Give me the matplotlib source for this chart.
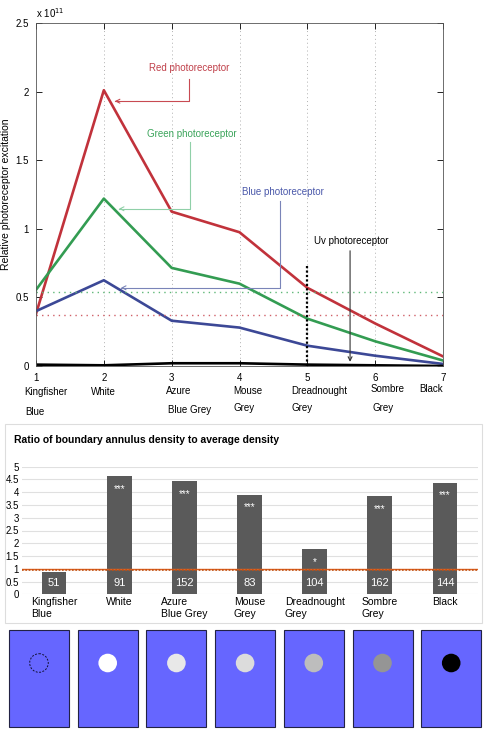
import numpy as np
import matplotlib
matplotlib.use("Agg")
import matplotlib.pyplot as plt
from matplotlib.patches import Rectangle, Circle

plt.rcParams['font.family'] = ['Liberation Sans', 'DejaVu Sans']
plt.rcParams['font.size'] = 7

# --- данные верхнего графика (в единицах 1e11)
stim_idx = [1, 2, 3, 4, 5, 6, 7]
names_line1 = ["Kingfisher", "White", "Azure", "Mouse", "Dreadnought", "Sombre", "Black"]
names_line2 = ["Blue", "", "Blue Grey", "Grey", "Grey", "Grey", ""]
red = [0.38, 2.01, 1.125, 0.975, 0.57, 0.31, 0.07]
green = [0.555, 1.22, 0.715, 0.60, 0.345, 0.18, 0.04]
blue = [0.40, 0.625, 0.33, 0.28, 0.148, 0.075, 0.015]
uv = [0.01, 0.005, 0.02, 0.02, 0.01, 0.005, 0.0]
green_ref = 0.54
red_ref = 0.372

# --- данные гистограммы
bar_names = ["Kingfisher\nBlue", "White", "Azure\nBlue Grey", "Mouse\nGrey",
             "Dreadnought\nGrey", "Sombre\nGrey", "Black"]
ratio = [0.88, 4.62, 4.43, 3.91, 1.78, 3.84, 4.38]
counts = [51, 91, 152, 83, 104, 162, 144]
stars = ["", "***", "***", "***", "*", "***", "***"]

# --- цвета кружков на стимулах
disc_colors = [None, "#ffffff", "#e8e8e8", "#dcdcdc", "#bdbdbd", "#959595", "#000000"]

fig = plt.figure(figsize=(4.84, 7.30), dpi=100)

# ================= верхний график
ax = fig.add_axes([36/484, 1-366/730, 407/484, 343/730])
c_red, c_green, c_blue = "#c1323b", "#339c52", "#3c4896"
ax.plot(stim_idx, red, color=c_red, lw=1.9)
ax.plot(stim_idx, green, color=c_green, lw=1.9)
ax.plot(stim_idx, blue, color=c_blue, lw=1.9)
ax.plot(stim_idx, uv, color="black", lw=1.9)
ax.axhline(green_ref, color="#60b878", ls=(0, (1, 3)), lw=1)
ax.axhline(red_ref, color="#d06068", ls=(0, (1, 3)), lw=1)
ax.plot([5, 5], [0, 0.74], color="black", ls=(0, (1, 1)), lw=1.6)

for xv in range(2, 7):
    ax.axvline(xv, color="#b0b0b0", ls=(0, (1, 3)), lw=0.7, zorder=0)

ax.set_xlim(1, 7)
ax.set_ylim(0, 2.5)
ax.set_yticks([0, 0.5, 1, 1.5, 2, 2.5])
ax.set_yticklabels(["0", "0.5", "1", "1.5", "2", "2.5"])
ax.set_xticks(stim_idx)
ax.set_xticklabels([str(i) for i in stim_idx])
ax.tick_params(direction="in", length=4, top=True, right=True, labelsize=7, pad=5, width=0.6)
for s in ax.spines.values():
    s.set_linewidth(0.6)
    s.set_color("#555555")
ax.set_ylabel("Relative photoreceptor excitation", fontsize=7.5)
ax.yaxis.set_label_coords(-0.062, 0.5)
ax.text(0.0, 1.01, "x 10$^{11}$", transform=ax.transAxes, fontsize=7, ha="left", va="bottom")

# подписи стимулов под осью: сдвиги в пикселях
name_dx = [10, 0, 7, 8, 12, 12, 0]
name_dy1 = [-26, -26, -25, -25, -25, -23, -23]
line2_dx = [-11, 0, -4, -6, -16, -3, 0]
name_dy2 = [-46, -46, -44, -42, -42, -42, -42]
for i, n1, n2, dx, dy1, dx2, dy2 in zip(stim_idx, names_line1, names_line2, name_dx,
                                        name_dy1, line2_dx, name_dy2):
    ha = "right" if i == 7 else "center"
    ax.annotate(n1, (i, 0), xytext=(dx * 0.72, dy1 * 0.72), textcoords="offset points",
                ha=ha, va="center", fontsize=7, annotation_clip=False)
    if n2:
        ax.annotate(n2, (i, 0), xytext=(dx2 * 0.72, dy2 * 0.72), textcoords="offset points",
                    ha="left", va="center", fontsize=7, annotation_clip=False)

def callout(x_txt, y_txt, label, tcol, lcol, x_line, y_top, y_bot, x_end):
    ax.text(x_txt, y_txt, label, color=tcol, ha="center", va="center", fontsize=7)
    ax.plot([x_line, x_line, x_end + 0.05], [y_top, y_bot, y_bot], color=lcol, lw=0.8)
    ax.annotate("", xy=(x_end, y_bot), xytext=(x_end + 0.12, y_bot),
                arrowprops=dict(arrowstyle="->", color=lcol, lw=0.8))

callout(3.26, 2.175, "Red photoreceptor", "#c0404a", "#c84a52", 3.26, 2.09, 1.93, 2.12)
callout(3.3, 1.69, "Green photoreceptor", "#3aa45a", "#90d0a8", 3.27, 1.635, 1.146, 2.18)
callout(4.64, 1.27, "Blue photoreceptor", "#4a58aa", "#7a84b8", 4.6, 1.2, 0.57, 2.21)
ax.text(5.65, 0.91, "Uv photoreceptor", color="black", ha="center", va="center", fontsize=7)
ax.annotate("", xy=(5.63, 0.01), xytext=(5.63, 0.86),
            arrowprops=dict(arrowstyle="->", color="#333333", lw=0.8))

# ================= гистограмма
fig.patches.append(Rectangle((5/484, 1-623/730), 477/484, 199/730, transform=fig.transFigure,
                             fill=False, edgecolor="#dddddd", lw=0.8))
fig.text(14/484, 1-440/730, "Ratio of boundary annulus density to average density",
         fontsize=7.5, fontweight="bold", va="center", ha="left")

bx = fig.add_axes([21.5/484, 1-594.3/730, 456/484, 127.6/730])
pos = np.arange(len(ratio))
bx.bar(pos, ratio, width=0.38, color="#5a5a5a", zorder=2)
bx.set_xlim(-0.5, len(ratio) - 0.5)
bx.set_ylim(0, 5)
bx.set_yticks(np.arange(0, 5.01, 0.5))
bx.set_yticklabels(["0", "0.5", "1", "1.5", "2", "2.5", "3", "3.5", "4", "4.5", "5"])
bx.yaxis.grid(True, color="#e0e0e0", lw=0.8, zorder=0)
bx.set_axisbelow(True)
for s in bx.spines.values():
    s.set_visible(False)
bx.tick_params(length=0, labelsize=7, pad=2)
bx.set_xticks(pos)
bx.set_xticklabels(bar_names, multialignment="left", fontsize=7.5, linespacing=1.2)
bx.get_xticklabels()[0].set_x(0.17)
bx.axhline(1.0, color="#e06020", lw=1.0, zorder=3)
bx.axhline(0.96, color="#c05010", lw=1.2, ls=(0, (1, 1)), zorder=3)
for p, v, n, st in zip(pos, ratio, counts, stars):
    bx.text(p, 0.45, str(n), color="white", ha="center", va="center", fontsize=8, zorder=4)
    if st:
        bx.text(p, v - 0.5, st, color="white", ha="center", va="center", fontsize=7, zorder=4)

# ================= стимулы
sx = fig.add_axes([0, 0, 1, 110/730])
sx.set_xlim(0, 484)
sx.set_ylim(110, 0)
sx.axis("off")
for k, dc in enumerate(disc_colors):
    x0 = 9 + k * 68.7
    sx.add_patch(Rectangle((x0, 10), 60, 97, facecolor="#6666ff", edgecolor="#222244", lw=0.8))
    if dc is None:
        sx.add_patch(Circle((x0 + 30, 43), 9.3, facecolor="none", edgecolor="#111133",
                            ls=(0, (2, 1.5)), lw=0.7))
    else:
        sx.add_patch(Circle((x0 + 30, 43), 9.3, facecolor=dc, edgecolor="none"))

fig.savefig("out.png", dpi=100)
